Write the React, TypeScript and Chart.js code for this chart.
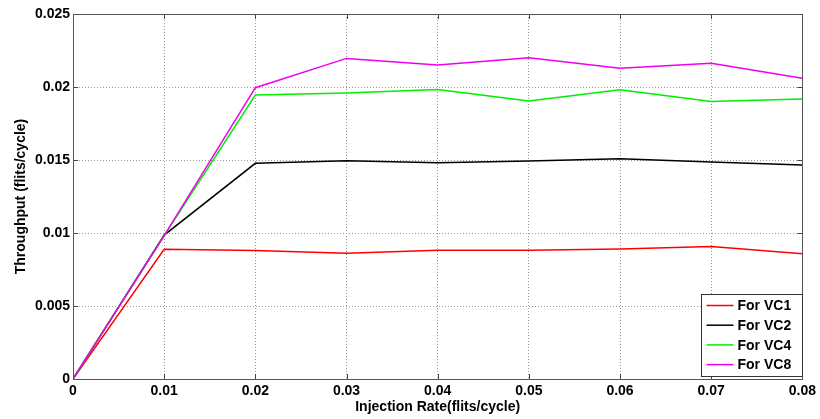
import React, { useEffect, useRef } from "react";
import { Chart, registerables } from "chart.js";

Chart.register(...registerables);

const injectionRates = [0, 0.01, 0.02, 0.03, 0.04, 0.05, 0.06, 0.07, 0.08];
const seriesLabels = ["For VC1", "For VC2", "For VC4", "For VC8"];
const seriesColors = ["#ff0000", "#000000", "#00ee00", "#ee00ee"];
const vc1 = [0, 0.00888, 0.0088, 0.00862, 0.00881, 0.00882, 0.0089, 0.00908, 0.00858];
const vc2 = [0, 0.00986, 0.01477, 0.01495, 0.01482, 0.01493, 0.01509, 0.01487, 0.01466];
const vc4 = [0, 0.00982, 0.01945, 0.01959, 0.01983, 0.01905, 0.01981, 0.019, 0.01918];
const vc8 = [0, 0.00982, 0.01995, 0.02196, 0.02151, 0.022, 0.02128, 0.02162, 0.0206];
const seriesValues = [vc1, vc2, vc4, vc8];
const xTickStep = 0.01;
const yTickStep = 0.005;

const FONT = "'Liberation Sans', Arial, sans-serif";

const boxPlugin = {
  id: "matlabBox",
  afterDatasetsDraw(chart: any) {
    const { ctx, chartArea } = chart;
    const { left, right, top, bottom } = chartArea;
    const xs = chart.scales.x;
    const ys = chart.scales.y;
    ctx.save();
    ctx.strokeStyle = "#444";
    ctx.lineWidth = 1;
    ctx.setLineDash([]);
    ctx.beginPath();
    const tl = 5;
    xs.ticks.forEach((t: any) => {
      const px = Math.round(xs.getPixelForValue(t.value)) + 0.5;
      ctx.moveTo(px, bottom);
      ctx.lineTo(px, bottom - tl);
      ctx.moveTo(px, top);
      ctx.lineTo(px, top + tl);
    });
    ys.ticks.forEach((t: any) => {
      const py = Math.round(ys.getPixelForValue(t.value)) + 0.5;
      ctx.moveTo(left, py);
      ctx.lineTo(left + tl, py);
      ctx.moveTo(right, py);
      ctx.lineTo(right - tl, py);
    });
    ctx.stroke();
    ctx.strokeStyle = "#555";
    ctx.strokeRect(Math.round(left) + 0.5, Math.round(top) + 0.5, Math.round(right - left), Math.round(bottom - top));
    ctx.restore();
  },
  afterDraw(chart: any) {
    const { ctx, chartArea } = chart;
    const w = 101;
    const h = 82;
    const bx = Math.round(chartArea.right - w) + 0.5;
    const by = Math.round(chartArea.bottom - 3 - h) + 0.5;
    ctx.save();
    ctx.fillStyle = "#ffffff";
    ctx.fillRect(bx, by, w, h);
    ctx.strokeStyle = "#333";
    ctx.lineWidth = 1;
    ctx.setLineDash([]);
    ctx.strokeRect(bx, by, w, h);
    ctx.font = `bold 14px ${FONT}`;
    ctx.textBaseline = "middle";
    ctx.textAlign = "left";
    chart.data.datasets.forEach((ds: any, i: number) => {
      const cy = by + 11 + i * 19.7;
      ctx.strokeStyle = ds.borderColor;
      ctx.lineWidth = 1.5;
      ctx.beginPath();
      ctx.moveTo(bx + 5, cy);
      ctx.lineTo(bx + 32, cy);
      ctx.stroke();
      ctx.fillStyle = "#000";
      ctx.fillText(ds.label, bx + 36, cy + 1);
    });
    ctx.restore();
  },
};

function fmt(v: number) {
  return String(Number(v.toFixed(4)));
}

export default function App() {
  const ref = useRef<HTMLCanvasElement | null>(null);
  useEffect(() => {
    if (!ref.current) return;
    const datasets = seriesValues.map((vals, i) => ({
      label: seriesLabels[i],
      data: vals.map((y, j) => ({ x: injectionRates[j], y })),
      borderColor: seriesColors[i],
      backgroundColor: seriesColors[i],
      borderWidth: 1.5,
      pointRadius: 0,
      tension: 0,
      fill: false,
      order: seriesValues.length - i,
    }));
    const chart = new Chart(ref.current, {
      type: "line",
      data: { datasets },
      options: {
        animation: false,
        responsive: false,
        maintainAspectRatio: false,
        layout: { padding: { left: 0, top: 14, right: 17, bottom: 0 } },
        plugins: { legend: { display: false }, tooltip: { enabled: false } },
        scales: {
          x: {
            type: "linear",
            min: 0,
            max: 0.08,
            afterFit: (s: any) => {
              s.height = 40;
            },
            ticks: {
              stepSize: xTickStep,
              padding: 4,
              color: "#000",
              font: { family: FONT, size: 14, weight: "bold" },
              maxRotation: 0,
              callback: (v: any) => fmt(Number(v)),
            },
            grid: { color: "#9a9a9a", lineWidth: 1, drawTicks: false },
            border: { display: false, dash: [1, 2] },
            title: {
              display: true,
              text: "Injection Rate(flits/cycle)",
              color: "#000",
              font: { family: FONT, size: 14, weight: "bold" },
              padding: { top: 0, bottom: 3 },
            },
          },
          y: {
            type: "linear",
            min: 0,
            max: 0.025,
            afterFit: (s: any) => {
              s.width = 73;
            },
            ticks: {
              stepSize: yTickStep,
              padding: 3,
              color: "#000",
              font: { family: FONT, size: 14, weight: "bold" },
              callback: (v: any) => fmt(Number(v)),
            },
            grid: { color: "#9a9a9a", lineWidth: 1, drawTicks: false },
            border: { display: false, dash: [1, 2] },
            title: {
              display: true,
              text: "Throughput (flits/cycle)",
              color: "#000",
              font: { family: FONT, size: 14, weight: "bold" },
              padding: { top: 13, bottom: 0 },
            },
          },
        },
      },
      plugins: [boxPlugin],
    } as any);
    return () => chart.destroy();
  }, []);
  return (
    <div style={{ position: "absolute", left: 0, top: 0, width: 820, height: 419, background: "#fff" }}>
      <canvas ref={ref} width={820} height={419} style={{ width: 820, height: 419, display: "block" }} />
    </div>
  );
}
